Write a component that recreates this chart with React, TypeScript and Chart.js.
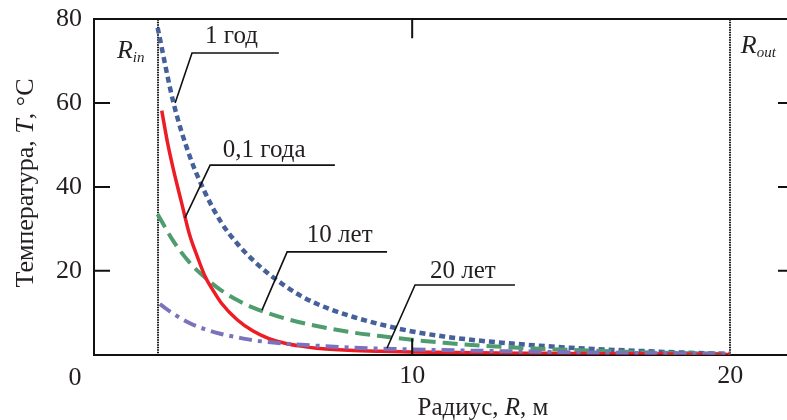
import React, { useEffect, useRef } from "react";
import { Chart, registerables } from "chart.js";
Chart.register(...registerables);

// ---- data ----
const xTickValues = [10, 20];
const xInnerTicks = [10];
const yTickValues = [20, 40, 60, 80];
const yInnerTicks = [20, 40, 60];
const rIn = 2;
const rOut = 20;

// 0,1 года
const r01 = [2.13, 2.3, 2.5, 2.75, 3, 3.25, 3.5, 3.75, 4, 4.5, 5, 5.5, 6, 6.5, 7, 8, 9, 10, 12, 14, 16, 18, 20];
const t01 = [58.2, 51, 44, 36.3, 28.7, 23.3, 18.5, 15.2, 12.3, 8.3, 5.6, 3.8, 2.7, 2.0, 1.5, 1.0, 0.75, 0.6, 0.4, 0.3, 0.2, 0.1, 0];
// 1 год
const r1 = [2, 2.5, 3, 3.5, 4, 4.5, 5, 5.5, 6, 6.5, 7, 8, 9, 10, 11, 12, 13, 14, 15, 16, 17, 18, 19, 20];
const t1 = [78, 60, 47.5, 38.5, 31.5, 26.5, 22.5, 19.2, 16.4, 14.0, 12.1, 9.3, 7.2, 5.5, 4.3, 3.4, 2.7, 2.1, 1.6, 1.2, 0.9, 0.6, 0.35, 0.15];
// 10 лет
const r10 = [2, 2.5, 3, 3.5, 4, 4.5, 5, 6, 7, 8, 9, 10, 11, 12, 13, 14, 15, 16, 17, 18, 19, 20];
const t10 = [33.5, 27, 22, 18.3, 15.3, 13, 11.2, 8.6, 6.8, 5.4, 4.4, 3.5, 2.8, 2.2, 1.75, 1.4, 1.1, 0.85, 0.6, 0.4, 0.25, 0.1];
// 20 лет
const r20 = [2.07, 2.5, 3, 3.5, 4, 4.5, 5, 6, 7, 8, 9, 10, 12, 14, 16, 18, 20];
const t20 = [12, 9.7, 7.5, 6, 4.9, 4.1, 3.4, 2.6, 2.1, 1.7, 1.4, 1.2, 0.9, 0.65, 0.45, 0.3, 0.15];

// callout labels: text, text anchor (R,T), elbow (R,T), horizontal end R, pointer tip (R,T)
const callouts = [
  { text: "1 год", tx: 3.49, ty: 75.8, ex: 3.08, ey: 71.96, hx: 5.81, px: 2.55, py: 60.0 },
  { text: "0,1 года", tx: 4.05, ty: 48.8, ex: 3.65, ey: 45.2, hx: 7.57, px: 2.86, py: 32.6 },
  { text: "10 лет", tx: 6.69, ty: 28.3, ex: 6.07, ey: 24.5, hx: 9.21, px: 5.28, py: 10.6 },
  { text: "20 лет", tx: 10.56, ty: 19.9, ex: 10.09, ey: 16.6, hx: 13.23, px: 9.21, py: 1.55 },
];

const SERIF = '"Liberation Serif", serif';
const INK = "#231f20";

const pts = (xs: number[], ys: number[]) => xs.map((x, i) => ({ x, y: ys[i] }));

function drawRich(
  ctx: CanvasRenderingContext2D,
  parts: { t: string; font: string; dy?: number }[],
  x: number,
  y: number,
  align: "left" | "center"
) {
  let total = 0;
  for (const p of parts) {
    ctx.font = p.font;
    total += ctx.measureText(p.t).width;
  }
  let cx = align === "center" ? x - total / 2 : x;
  ctx.textAlign = "left";
  ctx.fillStyle = INK;
  for (const p of parts) {
    ctx.font = p.font;
    ctx.fillText(p.t, cx, y + (p.dy || 0));
    cx += ctx.measureText(p.t).width;
  }
}

const decorPlugin = {
  id: "decor",
  beforeDatasetsDraw(chart: any) {
    const { ctx, chartArea } = chart;
    const xs = chart.scales.x;
    ctx.save();
    ctx.strokeStyle = "#111";
    ctx.lineWidth = 2;
    ctx.setLineDash([1.5, 1]);
    for (const v of [rIn, rOut]) {
      const px = Math.round(xs.getPixelForValue(v));
      ctx.beginPath();
      ctx.moveTo(px, chartArea.top);
      ctx.lineTo(px, chartArea.bottom);
      ctx.stroke();
    }
    ctx.restore();
  },
  afterDraw(chart: any) {
    const { ctx, chartArea } = chart;
    const xs = chart.scales.x;
    const ys = chart.scales.y;
    ctx.save();
    // inner ticks
    ctx.strokeStyle = "#111";
    ctx.lineWidth = 2;
    ctx.setLineDash([]);
    for (const v of yInnerTicks) {
      const py = ys.getPixelForValue(v);
      ctx.beginPath();
      ctx.moveTo(chartArea.left, py);
      ctx.lineTo(chartArea.left + 16, py);
      ctx.moveTo(chartArea.right, py);
      ctx.lineTo(chartArea.right - 16, py);
      ctx.stroke();
    }
    for (const v of xInnerTicks) {
      const px = xs.getPixelForValue(v);
      ctx.beginPath();
      ctx.moveTo(px, chartArea.top);
      ctx.lineTo(px, chartArea.top + 19);
      ctx.moveTo(px, chartArea.bottom);
      ctx.lineTo(px, chartArea.bottom - 16);
      ctx.stroke();
    }
    // callouts
    ctx.textBaseline = "middle";
    for (const c of callouts) {
      ctx.lineWidth = 1.6;
      ctx.strokeStyle = "#111";
      ctx.beginPath();
      ctx.moveTo(xs.getPixelForValue(c.px), ys.getPixelForValue(c.py));
      ctx.lineTo(xs.getPixelForValue(c.ex), ys.getPixelForValue(c.ey));
      ctx.lineTo(xs.getPixelForValue(c.hx), ys.getPixelForValue(c.ey));
      ctx.stroke();
      drawRich(ctx, [{ t: c.text, font: `25px ${SERIF}` }], xs.getPixelForValue(c.tx), ys.getPixelForValue(c.ty), "left");
    }
    // R_in / R_out
    ctx.textBaseline = "alphabetic";
    drawRich(ctx, [{ t: "R", font: `italic 26px ${SERIF}` }, { t: "in", font: `italic 15px ${SERIF}`, dy: 4 }], xs.getPixelForValue(0.72), ys.getPixelForValue(70.8), "left");
    drawRich(ctx, [{ t: "R", font: `italic 26px ${SERIF}` }, { t: "out", font: `italic 15px ${SERIF}`, dy: 4 }], xs.getPixelForValue(20.33), ys.getPixelForValue(72), "left");
    // corner zero
    ctx.textBaseline = "middle";
    drawRich(ctx, [{ t: "0", font: `26px ${SERIF}` }], 75, 378, "center");
    // axis titles
    ctx.textBaseline = "alphabetic";
    drawRich(ctx, [{ t: "Радиус, ", font: `25px ${SERIF}` }, { t: "R", font: `italic 25px ${SERIF}` }, { t: ", м", font: `25px ${SERIF}` }], 483, 415, "center");
    ctx.translate(33, 183);
    ctx.rotate(-Math.PI / 2);
    drawRich(ctx, [{ t: "Температура, ", font: `26px ${SERIF}` }, { t: "T", font: `italic 26px ${SERIF}` }, { t: ", °C", font: `26px ${SERIF}` }], 0, 0, "center");
    ctx.restore();
  },
};

export default function App() {
  const ref = useRef<HTMLCanvasElement | null>(null);
  useEffect(() => {
    if (!ref.current) return;
    const common = { pointRadius: 0, borderWidth: 4, fill: false, cubicInterpolationMode: "monotone" as const, borderCapStyle: "butt" as const };
    const chart = new Chart(ref.current, {
      type: "line",
      data: {
        datasets: [
          { label: "20 лет", data: pts(r20, t20), borderColor: "#7a72bb", borderDash: [13, 6, 4, 6], order: 1, ...common },
          { label: "0,1 года", data: pts(r01, t01), borderColor: "#ee1c25", order: 2, ...common, borderWidth: 3.5 },
          { label: "10 лет", data: pts(r10, t10), borderColor: "#4f9d6e", borderDash: [15, 7], order: 3, ...common },
          { label: "1 год", data: pts(r1, t1), borderColor: "#46609a", borderDash: [6, 4], order: 4, ...common, borderWidth: 4.5 },
        ],
      },
      options: {
        animation: false,
        responsive: false,
        devicePixelRatio: 1,
        layout: { padding: 0 },
        plugins: { legend: { display: false }, tooltip: { enabled: false } },
        scales: {
          x: {
            type: "linear", position: "bottom", min: 0, max: 22,
            afterBuildTicks: (s: any) => { s.ticks = xTickValues.map((v) => ({ value: v })); },
            afterFit: (s: any) => { s.height = 65.5; },
            ticks: { color: INK, padding: 15, maxRotation: 0, font: { family: SERIF, size: 26, lineHeight: 0.5 } },
            grid: { display: true, drawOnChartArea: false, drawTicks: false },
            border: { display: true, width: 2, color: "#111" },
          },
          xTop: {
            type: "linear", position: "top", min: 0, max: 22,
            afterFit: (s: any) => { s.height = 19.3; },
            ticks: { display: false },
            grid: { display: true, drawOnChartArea: false, drawTicks: false },
            border: { display: true, width: 2, color: "#111" },
          },
          y: {
            type: "linear", position: "left", min: 0, max: 80,
            afterBuildTicks: (s: any) => { s.ticks = yTickValues.map((v) => ({ value: v })); },
            afterFit: (s: any) => { s.width = 94; },
            ticks: { color: INK, padding: 12, font: { family: SERIF, size: 26, lineHeight: 0.5 } },
            grid: { display: true, drawOnChartArea: false, drawTicks: false },
            border: { display: true, width: 2, color: "#111" },
          },
          yRight: {
            type: "linear", position: "right", min: 0, max: 80,
            afterFit: (s: any) => { s.width = 2; },
            ticks: { display: false },
            grid: { display: true, drawOnChartArea: false, drawTicks: false },
            border: { display: true, width: 2, color: "#111" },
          },
        },
      },
      plugins: [decorPlugin],
    } as any);
    return () => chart.destroy();
  }, []);
  return (
    <div style={{ position: "absolute", left: 0, top: 0, width: 787, height: 420, overflow: "hidden", background: "#fff" }}>
      <canvas ref={ref} width={796} height={420} style={{ width: 796, height: 420, display: "block" }} />
    </div>
  );
}
